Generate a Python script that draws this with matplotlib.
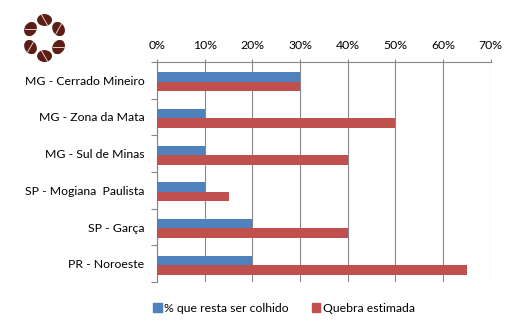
import numpy as np
import matplotlib.pyplot as plt
from matplotlib.patches import Ellipse, Patch

plt.rcParams['font.family'] = ['Lato', 'DejaVu Sans']

regioes = ['MG - Cerrado Mineiro', 'MG - Zona da Mata', 'MG - Sul de Minas',
           'SP - Mogiana  Paulista', 'SP - Garça', 'PR - Noroeste']
resta_colher = [0.30, 0.10, 0.10, 0.10, 0.20, 0.20]
quebra = [0.30, 0.50, 0.40, 0.15, 0.40, 0.65]
x_ticks = [0, 0.1, 0.2, 0.3, 0.4, 0.5, 0.6, 0.7]
legenda = ['% que resta ser colhido', 'Quebra estimada']

azul = '#4F81BD'
vermelho = '#C0504D'
cinza = '#868686'
fs = 8.8

fig = plt.figure(figsize=(5.24, 3.36), dpi=100)
ax = fig.add_axes([0.2996, 0.1607, 0.637, 0.6548])

y = np.arange(len(regioes))
h = 0.256
ax.barh(y - h / 2 + 0.04, resta_colher, height=h, color=azul, zorder=3)
ax.barh(y + h / 2 + 0.04, quebra, height=h, color=vermelho, zorder=3)

ax.set_xlim(0, 0.7)
ax.set_ylim(len(regioes) - 0.5, -0.5)

ax.xaxis.tick_top()
ax.set_xticks(x_ticks)
ax.set_xticklabels([f'{int(round(t * 100))}%' for t in x_ticks], fontsize=fs)
ax.tick_params(axis='x', direction='out', length=2.2, width=0.8, color=cinza, pad=5.5)
ax.grid(axis='x', color=cinza, linewidth=0.8, zorder=0)

# category boundaries as major ticks, labels on minor ticks
ax.set_yticks(np.arange(-0.5, len(regioes), 1.0))
ax.set_yticklabels([])
ax.set_yticks(y, minor=True)
ax.set_yticklabels(regioes, minor=True, fontsize=fs)
ax.tick_params(axis='y', which='major', direction='out', length=4, width=0.8, color=cinza)
ax.tick_params(axis='y', which='minor', length=0, pad=9)

for s in ['right', 'bottom']:
    ax.spines[s].set_visible(False)
for s in ['left', 'top']:
    ax.spines[s].set_color(cinza)
    ax.spines[s].set_linewidth(0.8)

handles = [Patch(color=azul), Patch(color=vermelho)]
fig.legend(handles, legenda, loc='center', bbox_to_anchor=(0.542, 0.083), ncol=2,
           frameon=False, fontsize=fs, handlelength=0.7, handleheight=0.7,
           handletextpad=0.2, columnspacing=1.9)

# logo: six coffee beans in a ring
lax = fig.add_axes([0, 0.72, 0.17, 0.28])
lax.set_xlim(0, 89)
lax.set_ylim(94, 0)
lax.axis('off')
cx, cy, r = 44.5, 38, 18
for k in range(6):
    a = np.deg2rad(90 + 60 * k)
    bx = cx + r * np.cos(a) * 0.9
    by = cy - r * np.sin(a)
    lax.add_patch(Ellipse((bx, by), 13.5, 10.5, angle=-60 * k, color='#5B1E17'))
    ang = np.deg2rad(-60 * k + 60)
    dx, dy = 5.8 * np.cos(ang), 5.8 * np.sin(ang)
    lax.plot([bx - dx, bx + dx], [by - dy, by + dy], color='#E8C9B8', lw=0.7)

fig.savefig('out.png', dpi=100)
